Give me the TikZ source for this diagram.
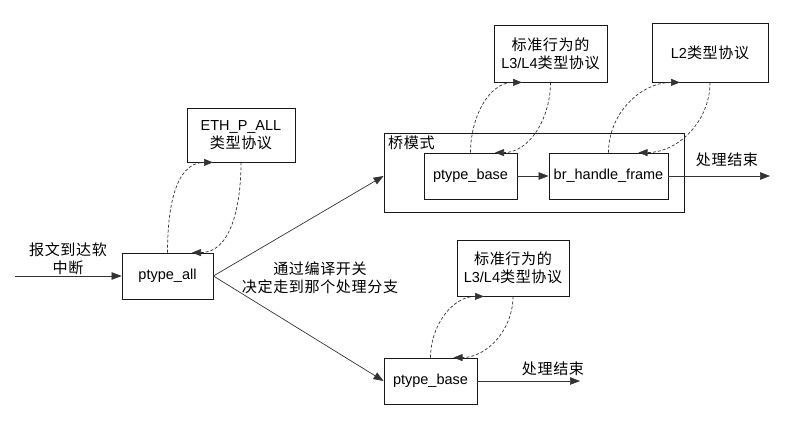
\documentclass[tikz,border=0pt]{standalone}
\usepackage{fontspec}
\setmainfont{Liberation Sans}
\newfontfamily\cjk[Scale=1.04,LetterSpace=4]{Noto Sans CJK SC}
\usetikzlibrary{arrows.meta,calc}
\begin{document}
\begin{tikzpicture}[x=1pt,y=-1pt,
  font=\fontsize{14.5}{18}\selectfont,
  box/.style={draw=black!90,line width=0.8pt,align=center,inner sep=0pt,anchor=center},
  flow/.style={draw=black!80,line width=0.7pt,-{Triangle[length=10pt,width=7.5pt]}},
  dflow/.style={draw=black!80,line width=0.7pt,dashed,dash pattern=on 3pt off 2pt,-{Triangle[length=9pt,width=7pt]}},
  lbl/.style={align=center,inner sep=0pt}]
\useasboundingbox (0,0) rectangle (799,430);
% nodes
\node[box,minimum width=108pt,minimum height=54pt] (eth) at (241,135) {ETH\_P\_ALL\\{\cjk 类型协议}};
\node[box,minimum width=91pt,minimum height=46pt] (pall) at (167.5,276) {ptype\_all};
\node[box,minimum width=300pt,minimum height=79pt] (bridge) at (534,172.5) {};
\node[lbl,anchor=north west] (bridgelbl) at (388,136) {\cjk 桥模式};
\node[box,minimum width=93pt,minimum height=46pt] (pb1) at (470.5,176) {ptype\_base};
\node[box,minimum width=119pt,minimum height=46pt] (br) at (608.5,176) {br\_handle\_frame};
\node[box,minimum width=113pt,minimum height=57pt] (l34a) at (550.5,53.5) {{\cjk 标准行为的}\\L3/L4{\cjk 类型协议}};
\node[box,minimum width=116pt,minimum height=59pt] (l2) at (710,52.5) {L2{\cjk 类型协议}};
\node[box,minimum width=93pt,minimum height=46pt] (pb2) at (430.5,381) {ptype\_base};
\node[box,minimum width=112pt,minimum height=56pt] (l34b) at (513,268) {{\cjk 标准行为的}\\L3/L4{\cjk 类型协议}};
% labels
\node[lbl] (inlbl) at (68,259) {\cjk 报文到达软\\\cjk 中断};
\node[lbl] (swlbl) at (320,278) {\cjk 通过编译开关\\\cjk 决定走到那个处理分支};
\node[lbl] (end1lbl) at (727,160) {\cjk 处理结束};
\node[lbl] (end2lbl) at (553,369) {\cjk 处理结束};
% coordinates
\coordinate (in) at (15,276);
\coordinate (out1) at (770,176);
\coordinate (out2) at (580,381);
% solid arrows
\draw[flow] (in) -- (pall.west);
\draw[flow] (pall.east) -- (bridge.west |- pb1);
\draw[flow] (pall.east) -- (pb2.west);
\draw[flow] (pb1.east) -- (br.west);
\draw[flow] (br.east) -- (out1);
\draw[flow] (pb2.east) -- (out2);
% dashed loops
\draw[dflow] (pall.north) to[out=90,in=180] ([xshift=-28pt]eth.south);
\draw[dflow] (eth.south) to[out=-90,in=0] ([xshift=24.5pt]pall.north);
\draw[dflow] (pb1.north) to[out=90,in=180] ([xshift=-28.5pt]l34a.south);
\draw[dflow] (l34a.south) to[out=-90,in=0] ([xshift=24.5pt]pb1.north);
\draw[dflow] (br.north) to[out=90,in=180] ([xshift=-30pt]l2.south);
\draw[dflow] (l2.south) to[out=-90,in=0] ([xshift=30pt]br.north);
\draw[dflow] (pb2.north) to[out=90,in=180] ([xshift=-29pt]l34b.south);
\draw[dflow] (l34b.south) to[out=-90,in=0] ([xshift=23pt]pb2.north);
\end{tikzpicture}
\end{document}
